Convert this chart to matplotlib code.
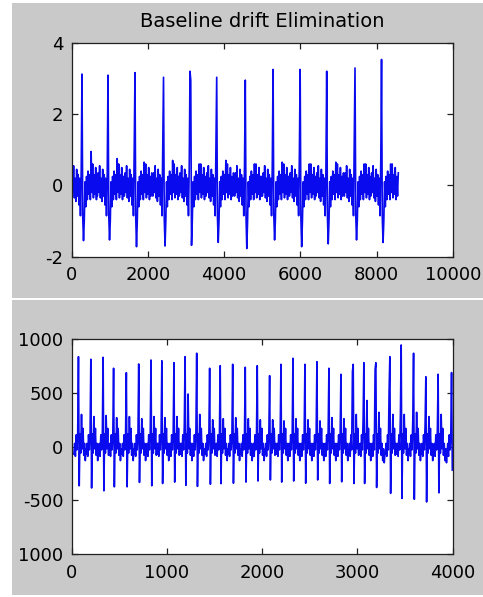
import numpy as np
import matplotlib
matplotlib.use("Agg")
import matplotlib.pyplot as plt
from matplotlib.patches import Rectangle

# ---------------- data ----------------
# Top panel: R-peak sample positions, heights, S depths, and per-beat extras
top_beat_x = [270, 953, 1661, 2410, 3105, 3806, 4556, 5285, 5996, 6693, 7436, 8132]
top_r = [3.12, 3.09, 3.16, 3.03, 3.20, 3.03, 2.95, 3.25, 3.25, 3.20, 3.29, 3.53]
top_s = [-1.55, -1.53, -1.72, -1.70, -1.68, -1.60, -1.77, -1.53, -1.72, -1.64, -1.53, -1.60]
top_pre = [0.45, 0.35, 1.00, 1.22, 0.50, 1.00, 0.55, 0.60, 0.85, 0.50, 1.32, 0.65]
top_post = [-0.90, -0.85, -0.90, -0.95, 2.95, -0.90, -0.90, -0.85, -0.95, -0.90, -0.85, -0.90]
top_t = [0.95, 0.75, 0.65, 0.70, 0.60, 0.70, 0.60, 0.65, 0.60, 0.65, 0.60, 0.60]
top_end = 8575
# one beat of the top trace, sampled every 20 samples from 300 before the R peak
top_template = [0.25, -0.30, 0.35, -0.20, 0.55, -0.35, 0.20, -0.45, 0.45, -0.30,
                0.30, -0.55, 0.20, -0.85, 0.0, 0.0, 0.0, 0.0, -1.00, 0.10,
                -0.60, 0.25, -0.40, 0.40, -0.25, 0.30, -0.40, 0.0, -0.20, 0.60,
                -0.35, 0.30, -0.25, 0.50, -0.40, 0.25, -0.30, 0.35, -0.20]
top_slots = {"pre": 14, "r": 15, "post": 16, "s": 17, "t": 27}
top_step, top_first = 20, -300

# Bottom panel
bot_beat_x = [71, 201, 330, 440, 574, 704, 833, 947, 1074, 1191, 1313, 1449, 1560,
              1691, 1823, 1949, 2079, 2198, 2324, 2450, 2576, 2702, 2828, 2957,
              3069, 3195, 3342, 3461, 3591, 3720, 3849, 3990]
bot_r = [838, 814, 832, 730, 689, 770, 807, 800, 782, 838, 870, 730, 754, 767, 739,
         754, 661, 767, 823, 767, 791, 730, 674, 767, 782, 782, 838, 947, 870, 651,
         674, 690]
bot_s = [-364, -385, -411, -374, -374, -333, -364, -343, -330, -360, -370, -350,
         -345, -340, -330, -320, -310, -330, -320, -340, -310, -343, -327, -343,
         -343, -380, -435, -482, -490, -515, -430, -218]
bot_pre = [120, 100, 130, 110, 120, 100, 130, 120, 110, 200, 150, 120, 130, 110,
           120, 100, 130, 120, 110, 120, 130, 150, 120, 700, 250, 720, 520, 300,
           250, 200, 150, 100]
bot_sec = [300, 280, 290, 270, 280, 260, 280, 270, 280, 490, 300, 250, 260, 270,
           260, 250, 250, 240, 260, 250, 240, 270, 260, 300, 430, 320, 300, 300,
           320, 280, 300, 250]
bot_end = 4000
# one beat of the bottom trace, sampled every 8 samples from 48 before the R peak
bot_template = [-70, 30, -90, 110, -30, 0, 0, 0, 120, -60,
                0, -20, 170, -80, 30, -130, -20, -150, -60, -110]
bot_slots = {"pre": 5, "r": 6, "s": 7, "sec": 10}
bot_step, bot_first = 8, -48

top_xticks = [0, 2000, 4000, 6000, 8000, 10000]
top_yticks = [-2, 0, 2, 4]
bot_xticks = [0, 1000, 2000, 3000, 4000]
bot_yticks = [1000, 500, 0, -500, -1000]
bot_yticklabels = ["1000", "500", "0", "-500", "1000"]
title = "Baseline drift Elimination"


def build(beat_x, template, slots, per_beat, step, first, end):
    xs, ys = [], []
    n = len(beat_x)
    for i, bx in enumerate(beat_x):
        seg_start = 0 if i == 0 else bx + first
        seg_end = end if i == n - 1 else beat_x[i + 1] + first
        vals = list(template)
        for key, idx in slots.items():
            vals[idx] = per_beat[key][i]
        for k, v in enumerate(vals):
            t = bx + first + k * step
            if seg_start <= t < seg_end and t <= end:
                xs.append(t)
                ys.append(v)
    return np.array(xs), np.array(ys)


tx, ty = build(top_beat_x, top_template, top_slots,
               {"pre": top_pre, "r": top_r, "post": top_post, "s": top_s, "t": top_t},
               top_step, top_first, top_end)
bx_, by_ = build(bot_beat_x, bot_template, bot_slots,
                 {"pre": bot_pre, "r": bot_r, "s": bot_s, "sec": bot_sec},
                 bot_step, bot_first, bot_end)

# ---------------- figure ----------------
plt.rcParams['font.family'] = ['DejaVu Sans']
W, H = 483, 597
fig = plt.figure(figsize=(W / 100, H / 100), dpi=100, facecolor='white')
gray = '#c9c9c9'
fig.patches.append(Rectangle((12 / W, 1 - 298 / H), 1 - 12 / W, 295 / H,
                             transform=fig.transFigure, facecolor=gray,
                             edgecolor='none', zorder=-10))
fig.patches.append(Rectangle((12 / W, 1 - 595 / H), 1 - 12 / W, 295 / H,
                             transform=fig.transFigure, facecolor=gray,
                             edgecolor='none', zorder=-10))

line_color = '#0a0aee'

ax1 = fig.add_axes([71.7 / W, 1 - 256.7 / H, 381 / W, 214 / H])
ax1.plot(tx, ty, color=line_color, lw=1.2)
ax1.set_xlim(0, 10000)
ax1.set_ylim(-2, 4)
ax1.set_xticks(top_xticks)
ax1.set_xticklabels([str(v) for v in top_xticks])
ax1.set_yticks(top_yticks)
ax1.set_yticklabels([str(v) for v in top_yticks])
ax1.set_title(title, fontsize=14, pad=11)

ax2 = fig.add_axes([71.7 / W, 1 - 554 / H, 380.8 / W, 214.7 / H])
ax2.plot(bx_, by_, color=line_color, lw=1.2)
ax2.set_xlim(0, 4000)
ax2.set_ylim(-1000, 1000)
ax2.set_xticks(bot_xticks)
ax2.set_xticklabels([str(v) for v in bot_xticks])
ax2.set_yticks(bot_yticks)
ax2.set_yticklabels(bot_yticklabels)

for ax in (ax1, ax2):
    ax.set_zorder(5)
    ax.set_facecolor('white')
    for sp in ax.spines.values():
        sp.set_color('#202020')
        sp.set_linewidth(0.9)
    ax.tick_params(direction='in', top=True, right=True, length=4, width=0.9,
                   labelsize=13, colors='#202020', labelcolor='black')
    ax.tick_params(axis='x', pad=7)
    ax.tick_params(axis='y', pad=6)

fig.savefig('out.png', dpi=100, facecolor=fig.get_facecolor())
